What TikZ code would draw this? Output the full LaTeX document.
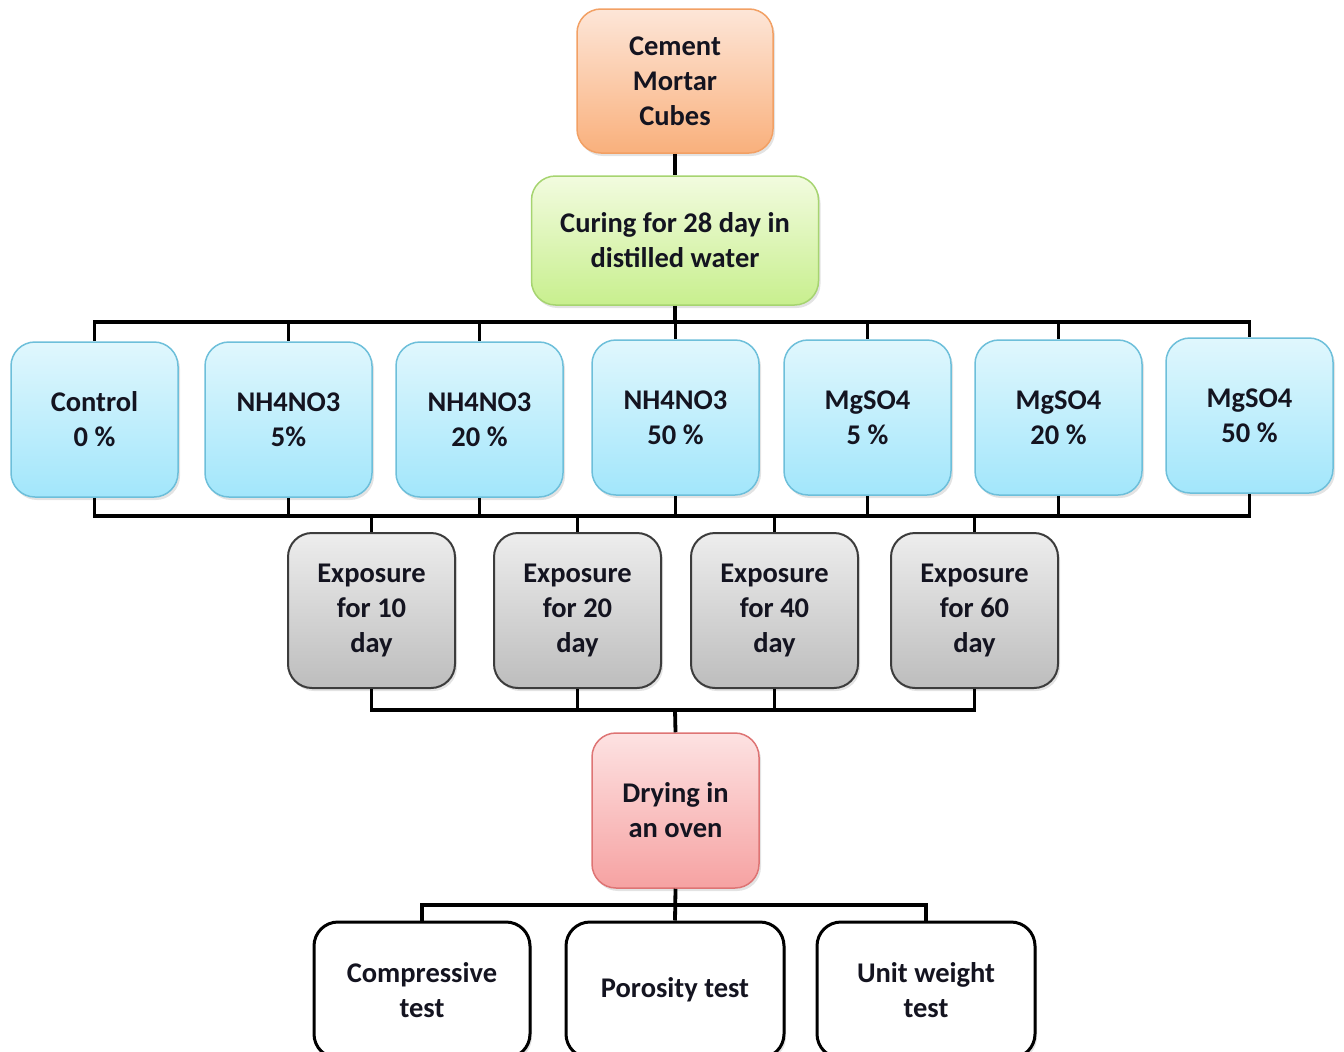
\documentclass[tikz,border=0pt]{standalone}
\usepackage{fontspec}
\setmainfont{Carlito}
\usetikzlibrary{shadows}
\definecolor{orTop}{HTML}{FDE6D8}
\definecolor{orBot}{HTML}{F9B07C}
\definecolor{orLine}{HTML}{F2A064}
\definecolor{grTop}{HTML}{F2FBDF}
\definecolor{grBot}{HTML}{C8EF8E}
\definecolor{grLine}{HTML}{A6D470}
\definecolor{blTop}{HTML}{E0F7FD}
\definecolor{blBot}{HTML}{A2E6FB}
\definecolor{blLine}{HTML}{6DBFDA}
\definecolor{gyTop}{HTML}{EDEDED}
\definecolor{gyBot}{HTML}{BDBDBD}
\definecolor{gyLine}{HTML}{3C3C3C}
\definecolor{rdTop}{HTML}{FDE2E2}
\definecolor{rdBot}{HTML}{F6A2A2}
\definecolor{rdLine}{HTML}{DE7474}
\definecolor{txt}{HTML}{141420}
\tikzset{
  box/.style={rounded corners=24pt, align=center, inner sep=0pt,
    font=\fontsize{28.5}{35}\selectfont\bfseries, text=txt,
    drop shadow={opacity=0.22, shadow xshift=2pt, shadow yshift=-3pt}},
  orbox/.style={box, draw=orLine, line width=1.5pt, top color=orTop, bottom color=orBot},
  grbox/.style={box, draw=grLine, line width=1.5pt, top color=grTop, bottom color=grBot},
  blbox/.style={box, draw=blLine, line width=1.5pt, top color=blTop, bottom color=blBot,
    minimum width=167pt, minimum height=155pt},
  gybox/.style={box, draw=gyLine, line width=2pt, top color=gyTop, bottom color=gyBot,
    minimum width=167pt, minimum height=155pt},
  rdbox/.style={box, draw=rdLine, line width=1.5pt, top color=rdTop, bottom color=rdBot,
    minimum width=167pt, minimum height=155pt},
  wtbox/.style={box, draw=black, line width=3pt, fill=white, drop shadow={opacity=0}},
  conn/.style={draw=black, line width=3.8pt, line join=miter},
}
\begin{document}
\begin{tikzpicture}[x=1pt,y=-1pt]
\useasboundingbox (0,0) rectangle (1344,1052);
\clip (0,0) rectangle (1344,1052);
% nodes
\node[orbox, minimum width=196pt, minimum height=144pt] (cement) at (675,81) {Cement\\Mortar\\Cubes};
\node[grbox, minimum width=287pt, minimum height=129pt] (curing) at (675,240.5) {Curing for 28 day in\\distilled water};

\node[blbox] (c0) at (94.5,419.5) {Control\\0 \%};
\node[blbox] (n5) at (288.5,419.5) {NH4NO3\\5\%};
\node[blbox] (n20) at (479.5,419.5) {NH4NO3\\20 \%};
\node[blbox] (n50) at (675.5,417.5) {NH4NO3\\50 \%};
\node[blbox] (m5) at (867.5,417.5) {MgSO4\\5 \%};
\node[blbox] (m20) at (1058.5,417.5) {MgSO4\\20 \%};
\node[blbox] (m50) at (1249.5,415.5) {MgSO4\\50 \%};

\node[gybox] (e10) at (371.5,610.5) {Exposure\\for 10\\day};
\node[gybox] (e20) at (577.5,610.5) {Exposure\\for 20\\day};
\node[gybox] (e40) at (774.5,610.5) {Exposure\\for 40\\day};
\node[gybox] (e60) at (974.5,610.5) {Exposure\\for 60\\day};

\node[rdbox] (dry) at (675.5,810.5) {Drying in\\an oven};

\node[wtbox, minimum width=216pt, minimum height=136pt] (tc) at (422,990) {Compressive\\test};
\node[wtbox, minimum width=218pt, minimum height=136pt] (tp) at (675,990) {Porosity test};
\node[wtbox, minimum width=218pt, minimum height=136pt] (tu) at (926,990) {Unit weight\\test};

% bus coordinates
\coordinate (b1) at (675,322);
\coordinate (b2) at (675,516);
\coordinate (b3) at (675,710);
\coordinate (b4) at (675,905);

% connectors
\draw[conn] (cement.south) -- (curing.north);
\draw[conn] (curing.south) -- (b1);
\foreach \n in {c0,n5,n20,n50,m5,m20,m50}{
  \draw[conn] (b1) -| (\n.north);
  \draw[conn] (\n.south) |- (b2);
}
\foreach \n in {e10,e20,e40,e60}{
  \draw[conn] (b2) -| (\n.north);
  \draw[conn] (\n.south) |- (b3);
}
\draw[conn] (b3) -- (dry.north);
\draw[conn] (dry.south) -- (tp.north);
\draw[conn] (b4) -| (tc.north);
\draw[conn] (b4) -| (tu.north);
\end{tikzpicture}
\end{document}
